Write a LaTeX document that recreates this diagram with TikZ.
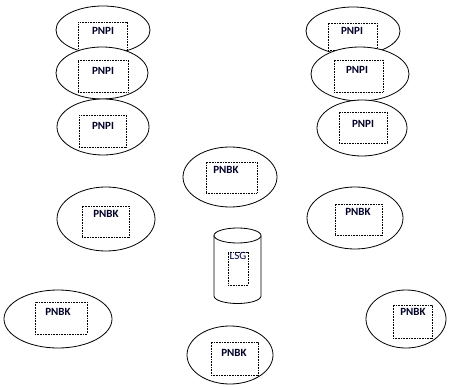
\documentclass[tikz,border=0pt]{standalone}
\usepackage{fontspec}
\setmainfont{Carlito}
\usetikzlibrary{shapes.geometric}
\tikzset{
  cell/.style={ellipse, draw, line width=0.8pt, fill=white, inner sep=0pt},
  box/.style={rectangle, draw, line width=0.8pt, dash pattern=on 0.8pt off 0.8pt, inner sep=0pt},
  tag/.style={font=\bfseries\fontsize{11}{11}\selectfont, inner sep=0pt, text=black!85!blue},
  lsgtag/.style={font=\fontsize{11}{11}\selectfont, inner sep=0pt, text=black!70!blue}
}
\begin{document}
\begin{tikzpicture}[x=1pt,y=-1pt]
\useasboundingbox (0,0) rectangle (449,387);

% left stack of PNPI cells
\node[cell, minimum width=94, minimum height=48] (l1) at (103,30) {};
\node[box, minimum width=49, minimum height=28] (l1b) at (102.5,36) {};
\node[tag] (l1t) at (103,31) {PNPI};
\node[cell, minimum width=92, minimum height=52] (l2) at (102,73) {};
\node[box, minimum width=50, minimum height=32] (l2b) at (103,76) {};
\node[tag] (l2t) at (103,71) {PNPI};
\node[cell, minimum width=92, minimum height=56] (l3) at (103,127) {};
\node[box, minimum width=47, minimum height=32] (l3b) at (102.5,131) {};
\node[tag] (l3t) at (103,126) {PNPI};

% right stack of PNPI cells
\node[cell, minimum width=94, minimum height=48] (r1) at (353,31) {};
\node[box, minimum width=49, minimum height=27] (r1b) at (352.5,36.5) {};
\node[tag] (r1t) at (352,31) {PNPI};
\node[cell, minimum width=98, minimum height=54] (r2) at (360,74) {};
\node[box, minimum width=49, minimum height=32] (r2b) at (358.5,76) {};
\node[tag] (r2t) at (357,70) {PNPI};
\node[cell, minimum width=90, minimum height=56] (r3) at (362,128) {};
\node[box, minimum width=48, minimum height=31] (r3b) at (363,127.5) {};
\node[tag] (r3t) at (363,124) {PNPI};

% PNBK cells
\node[cell, minimum width=94, minimum height=60] (ct) at (230,177) {};
\node[box, minimum width=51, minimum height=31] (ctb) at (231.5,177.5) {};
\node[tag] (ctt) at (226,170) {PNBK};

\node[cell, minimum width=98, minimum height=64] (lm) at (106,219) {};
\node[box, minimum width=47, minimum height=31] (lmb) at (105.5,221.5) {};
\node[tag] (lmt) at (106,214) {PNBK};

\node[cell, minimum width=96, minimum height=62] (rm) at (355,218) {};
\node[box, minimum width=47, minimum height=31] (rmb) at (358.5,219.5) {};
\node[tag] (rmt) at (358,212) {PNBK};

\node[cell, minimum width=108, minimum height=58] (lb) at (58,319) {};
\node[box, minimum width=52, minimum height=32] (lbb) at (61,318) {};
\node[tag] (lbt) at (58,312) {PNBK};

\node[cell, minimum width=86, minimum height=58] (bb) at (230,355) {};
\node[box, minimum width=47, minimum height=33] (bbb) at (234.5,358.5) {};
\node[tag] (bbt) at (234,353) {PNBK};

\node[cell, minimum width=80, minimum height=58] (rb) at (406,319) {};
\node[box, minimum width=39, minimum height=33] (rbb) at (412.5,321.5) {};
\node[tag] (rbt) at (413,312) {PNBK};

% LSG storage cylinder
\coordinate (cyl) at (237.5,235.5);
\draw[line width=0.8pt, fill=white]
  (214,235.5) -- (214,296) arc[start angle=180, end angle=0, x radius=23.5, y radius=7.5]
  -- (261,235.5);
\draw[line width=0.8pt, fill=white] (cyl) ellipse[x radius=23.5, y radius=7.5];
\node[box, minimum width=20, minimum height=33] (cylb) at (238,268.5) {};
\node[lsgtag] (lsg) at (238,256) {LSG};
\end{tikzpicture}
\end{document}
